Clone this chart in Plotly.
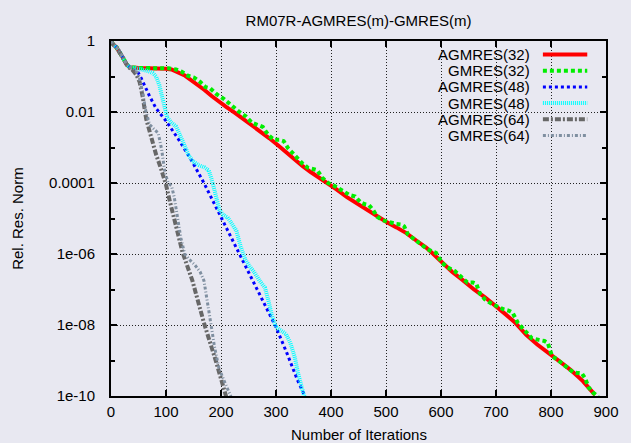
import plotly.graph_objects as go

# ---- data (y values are log10 of the relative residual norm) ----
agmres32_x = [0, 4, 10, 16, 22, 28, 34, 50, 70, 90, 100, 110, 120, 135, 147, 160, 170, 183, 196, 210, 226,
              244, 260, 273, 288, 303, 318, 334, 348, 363, 378, 395, 410, 429, 447, 465, 483, 501, 519, 537,
              555, 573, 586, 603, 620, 639, 660, 680, 698, 716, 734, 755, 775, 794, 815, 836, 858, 880]
agmres32_y = [0, -0.1, -0.18, -0.31, -0.48, -0.65, -0.74, -0.76, -0.76, -0.77, -0.78, -0.8, -0.86, -0.98,
              -1.12, -1.26, -1.38, -1.55, -1.71, -1.86, -2.03, -2.23, -2.4, -2.56, -2.74, -2.93, -3.13, -3.35,
              -3.52, -3.69, -3.85, -4.0, -4.18, -4.4, -4.58, -4.76, -4.93, -5.1, -5.25, -5.41, -5.62, -5.82,
              -6.0, -6.25, -6.5, -6.73, -7.0, -7.22, -7.44, -7.68, -7.92, -8.28, -8.55, -8.79, -9.02, -9.27,
              -9.58, -9.97]

gmres32_x = [0, 4, 10, 16, 22, 28, 34, 50, 70, 90, 105, 118, 128, 140, 151, 162, 172, 180, 192, 205, 214,
             222, 232, 245, 256, 266, 276, 286, 296, 306, 314, 322, 334, 348, 358, 368, 375, 384, 395, 406,
             420, 434, 444, 454, 462, 469, 476, 484, 494, 505, 518, 528, 533, 540, 552, 562, 574, 584, 591,
             596, 602, 612, 625, 637, 648, 658, 664, 671, 680, 692, 702, 714, 724, 730, 740, 752, 765, 778,
             788, 794, 802, 812, 822, 832, 840, 848, 856, 862, 868, 876, 886]
gmres32_y = [0, -0.1, -0.18, -0.31, -0.48, -0.65, -0.74, -0.76, -0.76, -0.76, -0.77, -0.8, -0.86, -0.98,
             -1.03, -1.15, -1.3, -1.33, -1.5, -1.63, -1.75, -1.85, -1.98, -2.12, -2.3, -2.36, -2.42, -2.65,
             -2.78, -2.78, -2.82, -3.02, -3.22, -3.45, -3.57, -3.6, -3.64, -3.85, -4.0, -4.08, -4.22, -4.34,
             -4.38, -4.55, -4.6, -4.62, -4.75, -4.95, -5.05, -5.1, -5.15, -5.17, -5.22, -5.45, -5.6, -5.72,
             -5.85, -5.93, -5.97, -6.1, -6.25, -6.38, -6.48, -6.65, -6.8, -6.8, -6.84, -7.12, -7.28, -7.4,
             -7.48, -7.56, -7.6, -7.65, -7.95, -8.15, -8.37, -8.42, -8.45, -8.5, -8.88, -8.98, -9.1, -9.25,
             -9.33, -9.35, -9.36, -9.5, -9.75, -9.9, -10.02]

agmres48_x = [0, 4, 10, 16, 22, 28, 34, 40, 48, 55, 62, 70, 82, 100, 124, 147, 169, 201, 233, 265, 300,
              320, 339, 354]
agmres48_y = [0, -0.1, -0.18, -0.31, -0.48, -0.65, -0.74, -0.78, -0.85, -1.05, -1.3, -1.55, -1.9, -2.25,
              -2.8, -3.38, -4.0, -5.0, -6.0, -7.0, -8.06, -8.8, -9.55, -10.05]

gmres48_x = [0, 4, 10, 16, 22, 28, 34, 45, 57, 68, 76, 82, 88, 94, 102, 110, 118, 127, 135, 142, 150, 160,
             170, 178, 184, 190, 197, 204, 212, 220, 228, 236, 244, 252, 260, 270, 280, 286, 292, 300, 308,
             318, 326, 334, 340, 346, 352]
gmres48_y = [0, -0.1, -0.18, -0.31, -0.48, -0.65, -0.74, -0.76, -0.8, -0.85, -0.9, -1.0, -1.25, -1.6,
             -2.15, -2.3, -2.4, -2.7, -3.0, -3.25, -3.4, -3.5, -3.56, -3.65, -3.95, -4.35, -4.75, -4.9, -4.97,
             -5.15, -5.35, -5.8, -6.15, -6.35, -6.5, -6.75, -6.95, -7.3, -7.7, -8.06, -8.15, -8.25, -8.5, -8.9,
             -9.35, -9.75, -10.05]

agmres64_x = [0, 4, 10, 16, 22, 28, 32, 38, 46, 52, 58, 64, 73, 82, 91, 100, 106, 118, 130, 148, 169, 190,
              205, 210]
agmres64_y = [0, -0.1, -0.18, -0.31, -0.48, -0.65, -0.74, -0.8, -0.95, -1.15, -1.6, -2.2, -2.75, -3.2, -3.6,
              -4.05, -4.45, -5.2, -5.95, -6.75, -7.94, -8.98, -9.75, -10.05]

gmres64_x = [0, 4, 10, 16, 22, 28, 34, 42, 50, 57, 63, 70, 78, 86, 92, 98, 104, 110, 115, 121, 127, 134,
             142, 152, 162, 169, 174, 178, 183, 188, 196, 205, 212, 219]
gmres64_y = [0, -0.1, -0.18, -0.31, -0.48, -0.65, -0.74, -0.78, -0.95, -1.4, -1.95, -2.35, -2.48, -2.6,
             -3.05, -3.7, -4.0, -4.08, -4.4, -5.0, -5.55, -6.0, -6.15, -6.3, -6.5, -6.75, -7.2, -7.65, -8.1,
             -8.6, -9.2, -9.55, -9.8, -10.05]

series_names = ["AGMRES(32)", "GMRES(32)", "AGMRES(48)", "GMRES(48)", "AGMRES(64)", "GMRES(64)"]
x_ticks = [0, 100, 200, 300, 400, 500, 600, 700, 800, 900]
y_tick_vals = [0, -2, -4, -6, -8, -10]
y_tick_text = ["1", "0.01", "0.0001", "1e-06", "1e-08", "1e-10"]
y_minor_vals = [-1, -3, -5, -7, -9]

title_text = "RM07R-AGMRES(m)-GMRES(m)"
x_title = "Number of Iterations"
y_title = "Rel. Res. Norm"

# ---- styles ----
styles = [
    dict(color="#ff0000", width=4, dash="solid"),
    dict(color="#00ee00", width=4, dash="4px,3px"),
    dict(color="#0000ff", width=3, dash="3px,3px"),
    dict(color="#00ffff", width=4, dash="1px,1px"),
    dict(color="#676767", width=4, dash="6px,2px,2px,2px"),
    dict(color="#7f8fa0", width=3, dash="3px,2px,1px,2px"),
]
xs = [agmres32_x, gmres32_x, agmres48_x, gmres48_x, agmres64_x, gmres64_x]
ys = [agmres32_y, gmres32_y, agmres48_y, gmres48_y, agmres64_y, gmres64_y]

FONT = "Liberation Sans, Arial, sans-serif"
BG = "#e8e8f1"

fig = go.Figure()
for name, x, y, st in zip(series_names, xs, ys, styles):
    fig.add_trace(go.Scatter(x=x, y=y, mode="lines", name=name, line=st, showlegend=False))

W, H = 631, 443
L, R, T, B = 111, 18, 41, 47
pw, ph = W - L - R, H - T - B

# manual gnuplot-style legend (text right-aligned, sample on the right)
row0 = 54.5
dy = 16.2
for i, (name, st) in enumerate(zip(series_names, styles)):
    py = row0 + i * dy
    yp = 1 - (py - T) / ph
    fig.add_annotation(x=(538 - L) / pw, y=yp, xref="paper", yref="paper", text=name,
                       showarrow=False, xanchor="right", yanchor="middle",
                       font=dict(family=FONT, size=15, color="black"))
    fig.add_shape(type="line", xref="paper", yref="paper",
                  x0=(549 - L) / pw, x1=(594 - L) / pw, y0=yp, y1=yp,
                  line=dict(color=st["color"], width=st["width"], dash=st["dash"]))

fig.add_annotation(x=0.5, y=1 - (434 - T) / ph, xref="paper", yref="paper", text=x_title,
                   showarrow=False, xanchor="center", yanchor="middle",
                   font=dict(family=FONT, size=15, color="black"))
fig.add_annotation(x=(16 - L) / pw, y=0.5, xref="paper", yref="paper", text=y_title, textangle=-90,
                   showarrow=False, xanchor="center", yanchor="middle",
                   font=dict(family=FONT, size=15, color="black"))

fig.update_layout(
    width=W, height=H,
    margin=dict(l=L, r=R, t=T, b=B, pad=0),
    paper_bgcolor=BG, plot_bgcolor=BG,
    font=dict(family=FONT, size=15, color="black"),
    title=dict(text=title_text, x=0.5, xref="paper", xanchor="center", y=1 - 21 / H, yanchor="middle",
               font=dict(family=FONT, size=15, color="black")),
    showlegend=False,
)
fig.update_xaxes(
    range=[0, 900], tickvals=x_ticks, ticks="inside", ticklen=6, tickwidth=1.5, tickcolor="black",
    showline=True, linecolor="black", linewidth=2, mirror="allticks",
    showgrid=True, gridcolor="#222222", gridwidth=1, griddash="1px,2px", zeroline=False,
    tickfont=dict(family=FONT, size=15, color="black"), ticklabelstandoff=1,
)
fig.update_yaxes(
    range=[-10, 0], tickvals=y_tick_vals, ticktext=y_tick_text, ticks="inside", ticklen=6, tickwidth=1.5,
    tickcolor="black", showline=True, linecolor="black", linewidth=2, mirror="allticks",
    showgrid=True, gridcolor="#222222", gridwidth=1, griddash="1px,2px", zeroline=False,
    tickfont=dict(family=FONT, size=15, color="black"), ticklabelstandoff=11,
    minor=dict(tickvals=y_minor_vals, ticks="inside", ticklen=4, tickwidth=1.5, tickcolor="black",
               showgrid=False),
)

fig.write_html("out.html")
